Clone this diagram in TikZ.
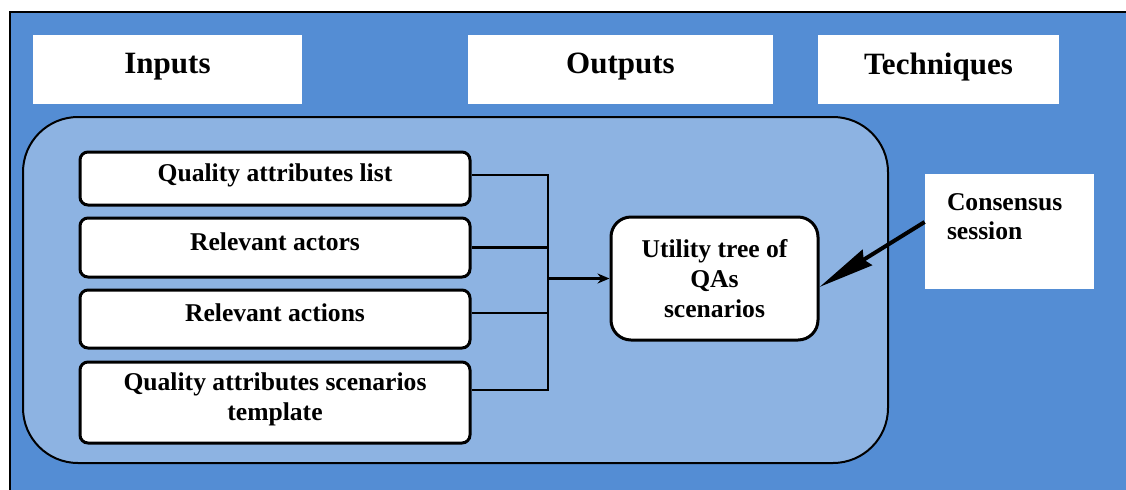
\documentclass[tikz,border=0pt]{standalone}
\usepackage{fontspec}
\setmainfont{Liberation Serif}
\usepackage{xcolor}
\definecolor{cFrame}{HTML}{548DD4}
\definecolor{cPanel}{HTML}{8DB3E2}
\definecolor{cLine}{HTML}{000000}
\usetikzlibrary{positioning,arrows.meta}
\tikzset{
  frame-area/.style={draw=cLine,line width=1pt,fill=cFrame},
  panel-area/.style={draw=cLine,line width=1pt,fill=cPanel,rounded corners=27.5pt},
  node-head/.style={fill=white,minimum height=34.5pt,text depth=6pt,
    font=\fontsize{15.5}{18}\selectfont\bfseries},
  % text depth pushes the label a bit above the middle of the box
  node-box/.style={draw=cLine,line width=1.5pt,fill=white,rounded corners=4pt,
    minimum width=195pt,align=center,text depth=6pt,
    font=\fontsize{12.8}{15}\selectfont\bfseries},
  node-tree/.style={draw=cLine,line width=1.5pt,fill=white,rounded corners=10pt,
    minimum width=103.5pt,minimum height=61.5pt,align=center,
    font=\fontsize{12.8}{15}\selectfont\bfseries},
  node-tech/.style={fill=white,minimum width=84.5pt,minimum height=57.5pt,
    text width=62.5pt,align=left,inner ysep=0pt,text depth=29.5pt,
    font=\fontsize{12.8}{14.5}\selectfont\bfseries},
  link/.style={draw=cLine,line width=1.2pt},
  arrow/.style={-{Stealth[length=6pt,width=5pt]},line width=1.2pt,draw=cLine},
  arrow-heavy/.style={-{Stealth[length=28pt,width=9pt,inset=2pt]},line width=2pt,draw=cLine},
}
\begin{document}
\begin{tikzpicture}[x=0.5pt,y=-0.5pt]
  \useasboundingbox (0,0) rectangle (1126,489);
  \fill[white] (0,0) rectangle (1126,489);
  \begin{scope}
    \clip (0,0) rectangle (1126,489);
    \draw[frame-area] (10,12) rectangle (1140,500);
  \end{scope}
  \draw[panel-area] (23,117) rectangle (888,463);
  \foreach \name/\x/\w in {Inputs/167.5/134.5, Outputs/620.5/152.5, Techniques/938.5/120.5} {
    \node[node-head,minimum width=\w pt] at (\x,69.5) (\name) {\name};
  }
  \node[node-box,minimum height=26.5pt] at (275,178.5) (qaList) {Quality attributes list};
  \node[node-box,minimum height=29.5pt,below=5pt of qaList] (actors) {Relevant actors};
  \node[node-box,minimum height=29pt,below=5pt of actors] (actions) {Relevant actions};
  \node[node-box,minimum height=40.5pt,below=5.5pt of actions] (qaTemplate)
    {Quality attributes scenarios\\template};
  \node[node-tree] at (714.5,278.5) (utilTree) {Utility tree of\\QAs\\scenarios};
  \node[node-tech] at (1009.5,231.5) (consensus) {Consensus\\session};
  \coordinate (busTop) at (548,175);
  \coordinate (busBot) at (548,390);
  \draw[link] (qaList.east |- busTop) -- (busTop) -- (busBot) -- (qaTemplate.east |- busBot);
  \draw[link] (actors.east) -- (actors.east -| busTop);
  \draw[link] ([yshift=3pt]actions.east) -- ([yshift=3pt]actions.east -| busTop);
  \draw[arrow] (busTop |- utilTree.west) -- (utilTree.west);
  \draw[arrow-heavy] ([yshift=4.75pt]consensus.west) -- ([yshift=-4.25pt]utilTree.east);
\end{tikzpicture}
\end{document}
